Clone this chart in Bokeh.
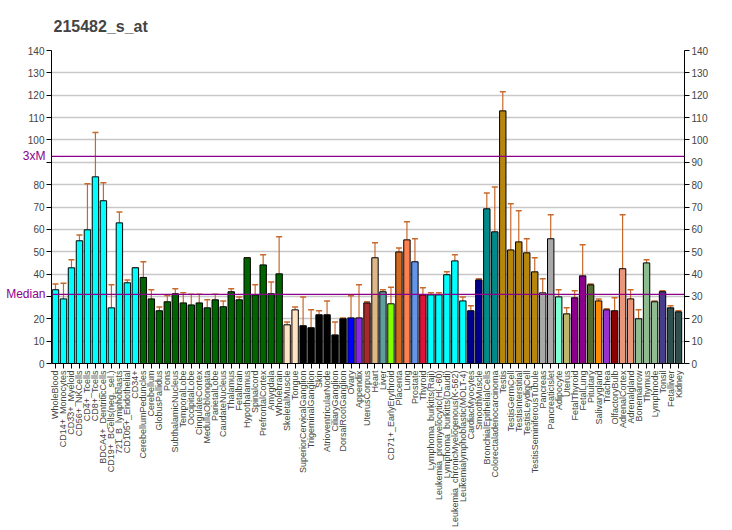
from bokeh.plotting import figure
from bokeh.models import (ColumnDataSource, FixedTicker, LinearAxis, Range1d, Span,
                          Whisker, TeeHead)
from bokeh.embed import file_html
from bokeh.resources import INLINE
import math

title_text = "215482_s_at"

tissues = [
    "WholeBlood", "CD14+_Monocytes", "CD33+_Myeloid", "CD56+_NKCells", "CD4+_Tcells",
    "CD8+_Tcells", "BDCA4+_DentriticCells", "CD19+_BCells(neg._sel.)", "721_B_lymphoblasts",
    "CD105+_Endothelial", "CD34+", "CerebellumPeduncles", "Cerebellum", "GlobusPallidus",
    "Pons", "SubthalamicNucleus", "TemporalLobe", "OccipitalLobe", "CingulateCortex",
    "MedullaOblongata", "ParietalLobe", "CaudateNucleus", "Thalamus", "Fetalbrain",
    "Hypothalamus", "Spinalcord", "PrefrontalCortex", "Amygdala", "Wholebrain",
    "SkeletalMuscle", "Tongue", "SuperiorCervicalGanglion", "TrigeminalGanglion", "Skin",
    "AtrioventricularNode", "CiliaryGanglion", "DorsalRootGanglion", "Ovary", "Appendix",
    "UterusCorpus", "Heart", "Liver", "CD71+_EarlyErythroid", "Placenta", "Lung",
    "Prostate", "Thyroid", "Lymphoma_burkitts(Raji)", "Leukemia_promyelocytic(HL-60)",
    "Lymphoma_burkitts(Daudi)", "Leukemia_chronicMyelogenous(K-562)",
    "Leukemialymphoblastic(MOLT-4)", "CardiacMyocytes", "SmoothMuscle",
    "BronchialEpithelialCells", "Colorectaladenocarcinoma", "Testis", "TestisGermCell",
    "TestisInterstitial", "TestisLeydigCell", "TestisSeminiferousTubule", "Pancreas",
    "PancreaticIslet", "Adipocyte", "Uterus", "FetalThyroid", "FetalLung", "Pituitary",
    "Salivarygland", "Trachea", "OlfactoryBulb", "AdrenalCortex", "Adrenalgland",
    "Bonemarrow", "Thymus", "Lymphnode", "Tonsil", "Fetalliver", "Kidney",
]

values = [
    33.0, 28.9, 42.8, 54.9, 59.8, 83.5, 72.8, 24.9, 62.9, 36.1, 42.8,
    38.5, 28.9, 23.6, 27.6, 31.2, 27.1, 26.2, 27.1, 24.9, 28.5, 25.4, 32.1, 28.5,
    47.3, 30.7, 44.1, 31.2, 40.1,
    17.3, 24.0, 16.9, 16.0, 21.8, 21.8, 12.8, 20.0, 20.4, 20.4, 27.1, 47.3, 32.1,
    26.7, 49.9, 55.3, 45.5, 30.7, 30.7, 30.7, 39.7, 45.9, 28.0, 23.6, 37.4,
    69.2, 58.9, 113.0, 50.8, 54.4, 49.5, 41.0, 31.6, 55.8, 29.8, 22.2, 29.4,
    39.2, 35.2, 28.0, 24.0, 23.6, 42.4, 28.9, 20.0, 45.0, 27.6, 32.1, 24.9, 23.1,
]

err_top = [
    35.6, 35.9, 46.4, 57.5, 80.4, 103.3, 80.8, 35.2, 67.8, 37.4, 42.8,
    45.5, 33.0, 25.3, 30.4, 33.4, 31.6, 31.0, 31.0, 28.5, 31.0, 28.0, 33.4, 29.8,
    47.3, 35.2, 48.6, 36.5, 56.7,
    18.6, 25.3, 29.8, 24.0, 23.6, 28.0, 18.6, 20.4, 30.3, 35.2, 27.6, 54.0, 33.0,
    34.1, 51.7, 63.4, 55.8, 33.9, 31.6, 31.6, 41.0, 48.6, 29.8, 25.8, 37.9,
    76.3, 79.0, 121.5, 71.4, 68.3, 55.8, 47.3, 37.9, 66.5, 33.0, 24.9, 32.5,
    53.1, 35.6, 28.9, 24.5, 29.4, 66.5, 33.0, 24.0, 46.4, 28.0, 32.5, 25.8, 23.6,
]

colors = (
    ["#00FFFF"] * 11 + ["#006400"] * 18 + ["#FFE4C4"] * 2 + ["#000000"] * 6 +
    ["#0000FF", "#8A2BE2", "#A52A2A", "#DEB887", "#5F9EA0", "#7FFF00", "#D2691E",
     "#FF7F50", "#6495ED", "#DC143C"] +
    ["#00FFFF"] * 5 + ["#00008B"] * 2 + ["#008B8B"] * 2 + ["#B8860B"] * 5 +
    ["#A9A9A9"] * 2 + ["#7FFFD4", "#BDB76B", "#8B008B", "#8B008B", "#556B2F",
     "#FF8C00", "#9932CC", "#8B0000", "#E9967A", "#E9967A", "#8FBC8F", "#8FBC8F",
     "#8FBC8F", "#483D8B", "#2F4F4F", "#2F4F4F"]
)

median_value = 30.9
triple_median = 92.6
ref_lines = [median_value, triple_median]
ref_labels = ["Median", "3xM"]
y_ticks = list(range(0, 141, 10))

n = len(tissues)
xs = list(range(1, n + 1))

src = ColumnDataSource(dict(x=xs, top=values, err=err_top, color=colors, name=tissues))

p = figure(frame_width=633, frame_height=313, output_backend="svg", toolbar_location=None,
           x_range=Range1d(0.5, n + 0.75), y_range=Range1d(0, 140),
           min_border_left=51, min_border_right=40, min_border_top=50,
           min_border_bottom=10, title=title_text)
p.outline_line_color = None
p.background_fill_color = "white"
p.title.text_font_size = "16px"
p.title.text_font_style = "bold"
p.title.text_font = "Liberation Sans"
p.title.vertical_align = "top"
p.title.standoff = 28
p.title.offset = 2

p.xgrid.grid_line_color = None
p.ygrid.grid_line_color = "#C8C8C8"
p.ygrid.grid_line_width = 1.5
p.ygrid.ticker = FixedTicker(ticks=y_ticks)

p.vbar(x="x", top="top", width=0.8, bottom=0, source=src, fill_color="color",
       line_color="black", line_width=1)

wh = Whisker(source=src, base="x", upper="err", lower="top", line_color="#C8692C",
             line_width=1.2,
             upper_head=TeeHead(size=6, line_color="#C8692C", line_width=1.5),
             lower_head=None)
p.add_layout(wh)

for yv in ref_lines:
    p.add_layout(Span(location=yv, dimension="width", line_color="#8B008B", line_width=1.3))

# x axis
xa = p.xaxis[0]
xa.ticker = FixedTicker(ticks=xs)
xa.major_label_overrides = {i: t for i, t in zip(xs, tissues)}
xa.major_label_orientation = math.pi / 2
xa.major_label_text_font_size = "9px"
xa.major_label_text_font = "Liberation Sans"
xa.major_label_standoff = 2
xa.major_tick_out = 5
xa.major_tick_in = 0
xa.minor_tick_line_color = None
xa.axis_line_color = "black"

# left axis
ya = p.yaxis[0]
ya.ticker = FixedTicker(ticks=y_ticks)
ya.major_label_overrides = {30: "", 90: ""}
ya.major_label_text_font_size = "10px"
ya.major_label_text_font = "Liberation Sans"
ya.major_tick_out = 5
ya.major_tick_in = 0
ya.minor_tick_line_color = None
ya.major_label_standoff = 2

# purple reference-line labels on the left
la = LinearAxis(ticker=FixedTicker(ticks=ref_lines),
                major_label_overrides={v: t for v, t in zip(ref_lines, ref_labels)})
la.axis_line_color = None
la.major_tick_line_color = None
la.minor_tick_line_color = None
la.major_tick_out = 0
la.major_tick_in = 0
la.major_label_standoff = -21
la.major_label_text_color = "#8B008B"
la.major_label_text_font_size = "12px"
la.major_label_text_font = "Liberation Sans"
p.add_layout(la, "left")

ra = LinearAxis(ticker=FixedTicker(ticks=y_ticks))
ra.major_label_text_font_size = "10px"
ra.major_label_text_font = "Liberation Sans"
ra.major_tick_out = 5
ra.major_tick_in = 0
ra.minor_tick_line_color = None
ra.major_label_standoff = 2
p.add_layout(ra, "right")

open("out.html", "w").write(file_html(p, INLINE))
